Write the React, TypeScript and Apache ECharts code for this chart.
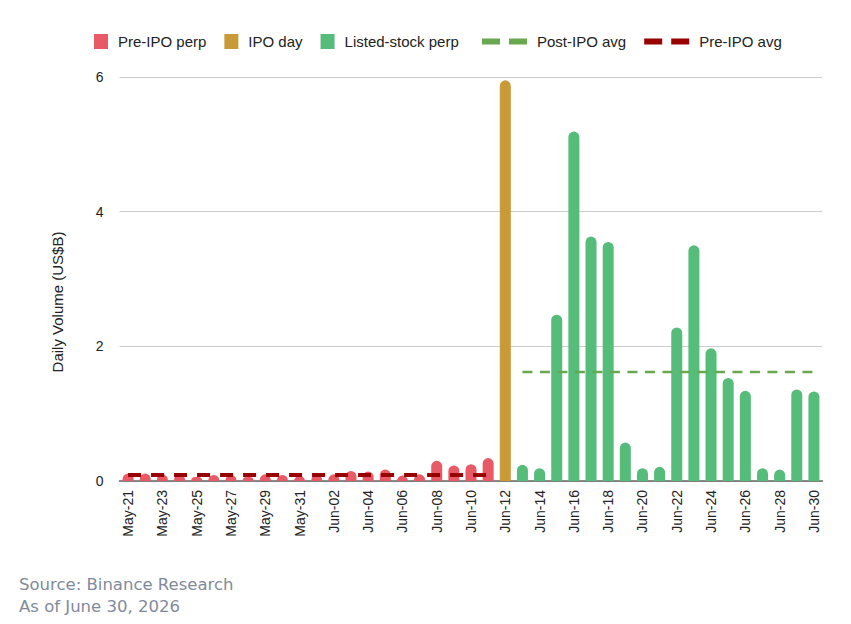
import React, { useEffect, useRef } from "react";
import * as echarts from "echarts";

const categories = [
  "May-21", "May-22", "May-23", "May-24", "May-25", "May-26", "May-27", "May-28", "May-29", "May-30", "May-31",
  "Jun-01", "Jun-02", "Jun-03", "Jun-04", "Jun-05", "Jun-06", "Jun-07", "Jun-08", "Jun-09", "Jun-10", "Jun-11",
  "Jun-12",
  "Jun-13", "Jun-14", "Jun-15", "Jun-16", "Jun-17", "Jun-18", "Jun-19", "Jun-20", "Jun-21", "Jun-22", "Jun-23",
  "Jun-24", "Jun-25", "Jun-26", "Jun-27", "Jun-28", "Jun-29", "Jun-30",
];

const preIpoDates = categories.slice(0, 22);
const preIpoValues = [
  0.11, 0.11, 0.1, 0.1, 0.06, 0.09, 0.09, 0.06, 0.1, 0.09, 0.07,
  0.09, 0.1, 0.15, 0.14, 0.17, 0.08, 0.1, 0.3, 0.23, 0.25, 0.34,
];
const ipoDate = "Jun-12";
const ipoValue = 5.95;
const listedDates = categories.slice(23);
const listedValues = [
  0.24, 0.19, 2.47, 5.19, 3.63, 3.55, 0.57, 0.19, 0.21, 2.28, 3.5,
  1.97, 1.53, 1.34, 0.19, 0.17, 1.36, 1.33,
];
const postIpoAvg = 1.62;
const preIpoAvg = 0.09;
const yTicks = [0, 2, 4, 6];

const RED = "#e85b66";
const GOLD = "#c99a38";
const GREEN = "#55bc7a";
const GREEN_DASH = "#6aa84f";
const DARK_RED = "#990000";

export default function App() {
  const ref = useRef<HTMLDivElement>(null);

  useEffect(() => {
    if (!ref.current) return;
    const chart = echarts.init(ref.current, undefined, { renderer: "svg" });

    const byDate = (dates: string[], vals: number[]) =>
      categories.map((c) => {
        const i = dates.indexOf(c);
        return i >= 0 ? vals[i] : null;
      });

    const preData = byDate(preIpoDates, preIpoValues);
    const ipoData = categories.map((c) => (c === ipoDate ? ipoValue : null));
    const listedData = byDate(listedDates, listedValues);
    const postAvgData = categories.map((c) => (listedDates.includes(c) ? postIpoAvg : null));
    const preAvgData = categories.map((c) => (preIpoDates.includes(c) ? preIpoAvg : null));

    const barCommon = {
      type: "bar",
      stack: "v",
      barWidth: 11,
      itemStyle: { borderRadius: [6, 6, 0, 0] },
    };

    const textFont = "Liberation Sans, Arial, sans-serif";
    const dashIcon = "path://M0,0H18V6H0Z M27,0H45V6H27Z";

    chart.setOption({
      animation: false,
      backgroundColor: "#ffffff",
      grid: { left: 119.5, right: 28.5, top: 77, bottom: 143, containLabel: false },
      legend: [
        {
          left: 94,
          top: 34,
          padding: 0,
          itemWidth: 14,
          itemHeight: 15,
          itemGap: 18,
          textStyle: { fontSize: 15, color: "#222", fontFamily: textFont, padding: [0, 0, 0, 5] },
          data: [
            { name: "Pre-IPO perp", icon: "rect", itemStyle: { color: RED } },
            { name: "IPO day", icon: "rect", itemStyle: { color: GOLD } },
            { name: "Listed-stock perp", icon: "rect", itemStyle: { color: GREEN } },
          ],
        },
        {
          left: 482,
          top: 34,
          padding: 0,
          itemWidth: 45,
          itemHeight: 6,
          itemGap: 18,
          textStyle: { fontSize: 15, color: "#222", fontFamily: textFont, padding: [0, 0, 0, 5] },
          data: [
            { name: "Post-IPO avg", icon: dashIcon, itemStyle: { color: GREEN_DASH } },
            { name: "Pre-IPO avg", icon: dashIcon, itemStyle: { color: DARK_RED } },
          ],
        },
      ],
      xAxis: {
        type: "category",
        data: categories,
        boundaryGap: true,
        axisLine: { lineStyle: { color: "#666", width: 1.5 } },
        axisTick: { show: false },
        axisLabel: {
          rotate: 90,
          interval: 1,
          fontSize: 14,
          color: "#222",
          fontFamily: textFont,
          margin: 9,
        },
      },
      yAxis: {
        type: "value",
        min: yTicks[0],
        max: yTicks[yTicks.length - 1],
        interval: 2,
        axisLine: { show: false },
        axisTick: { show: false },
        splitLine: { lineStyle: { color: "#cccccc", width: 1 } },
        axisLabel: { fontSize: 14, color: "#222", fontFamily: textFont, margin: 16 },
      },
      series: [
        { ...barCommon, name: "Pre-IPO perp", data: preData, itemStyle: { ...barCommon.itemStyle, color: RED } },
        { ...barCommon, name: "IPO day", data: ipoData, itemStyle: { ...barCommon.itemStyle, color: GOLD } },
        { ...barCommon, name: "Listed-stock perp", data: listedData, itemStyle: { ...barCommon.itemStyle, color: GREEN } },
        {
          type: "line",
          name: "Post-IPO avg",
          data: postAvgData,
          symbol: "none",
          z: 5,
          color: GREEN_DASH,
          lineStyle: { color: GREEN_DASH, width: 2.5, type: [10, 7.5] },
        },
        {
          type: "line",
          name: "Pre-IPO avg",
          data: preAvgData,
          symbol: "none",
          z: 5,
          color: DARK_RED,
          lineStyle: { color: DARK_RED, width: 4, type: [13, 10] },
        },
      ],
      graphic: [
        {
          type: "text",
          x: 57,
          y: 302,
          rotation: Math.PI / 2,
          style: {
            text: "Daily Volume (US$B)",
            fontSize: 15,
            fill: "#222",
            fontFamily: textFont,
            align: "center",
            verticalAlign: "middle",
          },
        },
        {
          type: "text",
          left: 19,
          top: 576,
          style: {
            text: "Source: Binance Research",
            fontSize: 16.5,
            fill: "#818a9b",
            fontFamily: "DejaVu Sans, sans-serif",
          },
        },
        {
          type: "text",
          left: 19,
          top: 598,
          style: {
            text: "As of June 30, 2026",
            fontSize: 16.5,
            fill: "#818a9b",
            fontFamily: "DejaVu Sans, sans-serif",
          },
        },
      ],
    });

    return () => chart.dispose();
  }, []);

  return <div ref={ref} style={{ width: 851, height: 624, margin: -8 }} />;
}
